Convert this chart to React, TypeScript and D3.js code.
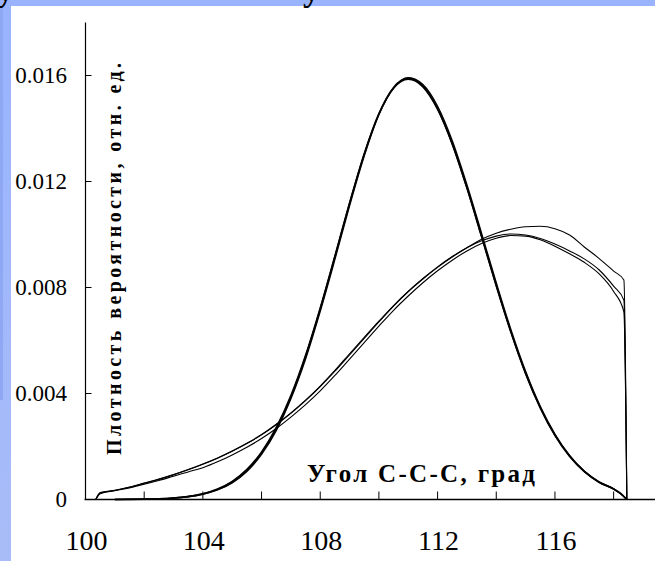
import React from "react";
import * as d3 from "d3";

// ---- data ----
const xTickLabels = [100, 104, 108, 112, 116];
const xMinorTicks = [102, 104, 106, 108, 110, 112, 114, 116, 118, 120];
const yTicks = [0, 0.004, 0.008, 0.012, 0.016];
const yTickLabels = ["0", "0.004", "0.008", "0.012", "0.016"];

const xAxisTitle = "Угол С-С-С, град";
const yAxisTitle = "Плотность вероятности, отн. ед.";

// wide distributions (three thin curves)
const xWide = [100.35, 100.5, 101, 101.5, 102, 102.5, 103, 103.5, 104, 104.5, 105, 105.5, 106, 106.5, 107, 107.5, 108, 108.5, 109, 109.5, 110, 110.5, 111, 111.5, 112, 112.5, 113, 113.5, 114, 114.5, 115, 115.5, 116, 116.5, 117, 117.5, 118, 118.35, 118.45];
const wide1 = [0, 0.00026, 0.00035, 0.00047, 0.00062, 0.00077, 0.00094, 0.00113, 0.00134, 0.00157, 0.00183, 0.00212, 0.00245, 0.00284, 0.00327, 0.00375, 0.00428, 0.00487, 0.0055, 0.00612, 0.00673, 0.00732, 0.00785, 0.00832, 0.00876, 0.00915, 0.0095, 0.00982, 0.01005, 0.0102, 0.01029, 0.01031, 0.01022, 0.00998, 0.00953, 0.0091, 0.00862, 0.00828, 0];
const wide2 = [0, 0.00024, 0.00034, 0.00046, 0.00061, 0.00076, 0.00093, 0.00112, 0.00133, 0.00156, 0.00182, 0.00211, 0.00244, 0.00282, 0.00325, 0.00373, 0.00426, 0.00484, 0.00546, 0.00608, 0.0067, 0.0073, 0.00785, 0.00834, 0.00878, 0.00917, 0.0095, 0.00976, 0.00994, 0.01002, 0.00998, 0.00985, 0.00964, 0.00938, 0.00908, 0.00867, 0.00805, 0.00752, 0];
const wide3 = [0, 0.00022, 0.00033, 0.00044, 0.00058, 0.00072, 0.00088, 0.00104, 0.0012, 0.00142, 0.00168, 0.00197, 0.0023, 0.00268, 0.00311, 0.00358, 0.0041, 0.00468, 0.0053, 0.00592, 0.00654, 0.00714, 0.00768, 0.00818, 0.00863, 0.00903, 0.00938, 0.00966, 0.00986, 0.00996, 0.00994, 0.0098, 0.00956, 0.00927, 0.00895, 0.00852, 0.00785, 0.00708, 0];

// narrow distributions (three thick curves)
const xNarrow = [101, 101.5, 102, 102.5, 103, 103.5, 104, 104.5, 105, 105.5, 106, 106.5, 107, 107.5, 108, 108.5, 109, 109.5, 110, 110.5, 111, 111.5, 112, 112.5, 113, 113.5, 114, 114.5, 115, 115.5, 116, 116.5, 117, 117.5, 118, 118.25, 118.45];
const narrow1 = [0.000002, 0.000006, 0.000013, 0.000027, 0.000056, 0.00011, 0.00021, 0.00038, 0.00066, 0.0011, 0.00175, 0.00266, 0.00387, 0.00539, 0.00719, 0.00916, 0.01117, 0.01304, 0.01456, 0.01555, 0.0159, 0.0156, 0.01475, 0.01343, 0.01177, 0.00994, 0.00808, 0.00633, 0.00477, 0.00347, 0.00243, 0.00164, 0.00106, 0.00066, 0.0004, 0.00022, 0];
const narrow2 = [0, 0.000005, 0.000012, 0.000025, 0.000052, 0.0001, 0.0002, 0.00036, 0.00063, 0.00106, 0.0017, 0.0026, 0.0038, 0.0053, 0.0071, 0.00906, 0.01108, 0.01296, 0.01452, 0.01553, 0.01592, 0.01566, 0.01484, 0.01354, 0.01188, 0.01004, 0.00818, 0.00641, 0.00484, 0.00352, 0.00247, 0.00166, 0.00107, 0.00067, 0.0004, 0.00021, 0];
const narrow3 = [0.000003, 0.000007, 0.000015, 0.00003, 0.00006, 0.00012, 0.00022, 0.0004, 0.00069, 0.00114, 0.0018, 0.00272, 0.00393, 0.00545, 0.00724, 0.0092, 0.0112, 0.01305, 0.01455, 0.01552, 0.01586, 0.01557, 0.01472, 0.0134, 0.01174, 0.0099, 0.00805, 0.0063, 0.00474, 0.00345, 0.00241, 0.00162, 0.00105, 0.00065, 0.00039, 0.00021, 0];

const W = 655;
const H = 561;
const SERIF = "'Liberation Serif', 'DejaVu Serif', 'Times New Roman', serif";

export default function App() {
  const x = d3.scaleLinear().domain([100, 120]).range([85.5, 672.3]);
  const y = d3.scaleLinear().domain([0, 0.018]).range([499.5, 22.5]);

  const line = (xs: number[]) =>
    d3
      .line<number>()
      .x((_, i) => x(xs[i]))
      .y((d) => y(d))
      .curve(d3.curveMonotoneX);

  const wideLine = line(xWide);
  const narrowLine = line(xNarrow);

  const txt = (size: number, bold = false): React.CSSProperties => ({
    fontFamily: SERIF,
    fontSize: size,
    fontWeight: bold ? "bold" : "normal",
  });

  return (
    <svg
      width={W}
      height={H}
      viewBox={`0 0 ${W} ${H}`}
      style={{ position: "absolute", left: 0, top: 0, background: "#fff" }}
    >
      <defs>
        <linearGradient id="strip" x1="0" y1="0" x2="0" y2="1">
          <stop offset="0" stopColor="#99b3ff" />
          <stop offset="1" stopColor="#a8bcf7" />
        </linearGradient>
      </defs>
      <rect x={0} y={0} width={W} height={H} fill="#fff" />
      {/* blue frame */}
      <rect x={0} y={0} width={W} height={6} fill="#99b3ff" />
      <rect x={0} y={0} width={11} height={H} fill="url(#strip)" />
      <rect x={0} y={6} width={3} height={394} fill="#8ea8f4" />
      {/* cut-off title descenders */}
      <text x={-3} y={1} style={txt(34, true)} fill="#000">у</text>
      <text x={303} y={1} style={txt(34, true)} fill="#000">у</text>

      {/* axes */}
      <line x1={x(100)} x2={x(100)} y1={y(0.018)} y2={y(0)} stroke="#000" strokeWidth={1.2} />
      <line x1={x(100) - 1} x2={W} y1={y(0)} y2={y(0)} stroke="#000" strokeWidth={1.6} />
      {xMinorTicks.map((t) => (
        <line key={"xt" + t} x1={x(t)} x2={x(t)} y1={y(0)} y2={y(0) - 8} stroke="#000" strokeWidth={1} />
      ))}
      {yTicks.slice(1).map((t) => (
        <line key={"yt" + t} x1={x(100)} x2={x(100) + 6} y1={y(t)} y2={y(t)} stroke="#000" strokeWidth={1} />
      ))}
      {yTicks.map((t, i) => (
        <text key={"yl" + t} x={67} y={y(t) + 7.5} textAnchor="end" style={txt(23)} fill="#000">
          {yTickLabels[i]}
        </text>
      ))}
      {xTickLabels.map((t) => (
        <text key={"xl" + t} x={x(t) + 1} y={550} textAnchor="middle" style={txt(28)} fill="#000">
          {t}
        </text>
      ))}

      {/* curves */}
      <g fill="none" stroke="#000">
        <path d={wideLine(wide1) || ""} strokeWidth={1.1} />
        <path d={wideLine(wide2) || ""} strokeWidth={1.1} />
        <path d={wideLine(wide3) || ""} strokeWidth={1.1} />
        <path d={narrowLine(narrow1) || ""} strokeWidth={1.6} />
        <path d={narrowLine(narrow2) || ""} strokeWidth={1.4} />
        <path d={narrowLine(narrow3) || ""} strokeWidth={1.4} />
      </g>

      {/* axis titles */}
      <text x={307} y={482} style={txt(25, true)} textLength={228} lengthAdjust="spacing" fill="#000">
        {xAxisTitle}
      </text>
      <text
        transform="translate(121,455) rotate(-90)"
        x={0}
        y={0}
        style={txt(20, true)}
        textLength={392}
        lengthAdjust="spacing"
        fill="#000"
      >
        {yAxisTitle}
      </text>
    </svg>
  );
}
